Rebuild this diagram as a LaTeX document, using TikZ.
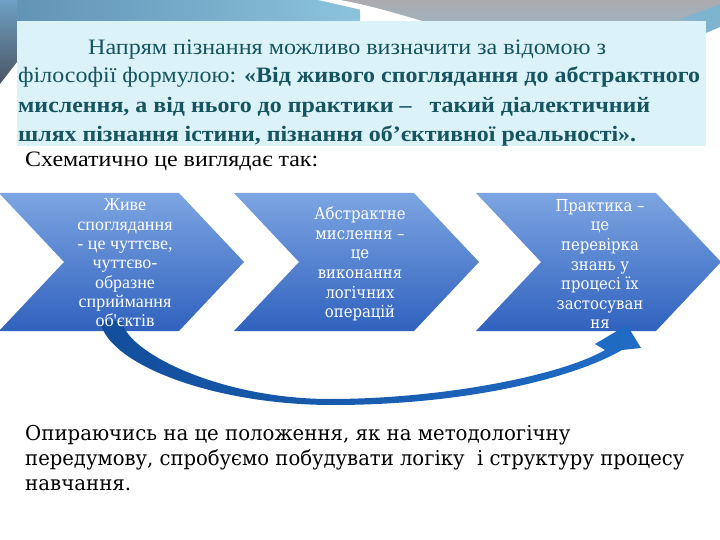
\documentclass[tikz,border=0pt]{standalone}
\usepackage{graphicx}
\usepackage{fontspec}
\setmainfont{Liberation Serif}
\newfontfamily\cambriafont{DejaVu Serif Condensed}
\newfontfamily\chevonefont{Liberation Serif}
\newcommand{\fitw}[2]{\resizebox{#1}{\height}{#2}}
\definecolor{boxbg}{RGB}{219,242,248}
\definecolor{boxtxt}{RGB}{22,84,96}
\definecolor{bandblueL}{RGB}{95,145,180}
\definecolor{bandblueR}{RGB}{140,195,220}
\definecolor{bandgrayT}{RGB}{172,170,174}
\definecolor{bandgrayB}{RGB}{160,178,190}
\definecolor{wedgeT}{RGB}{110,160,195}
\definecolor{wedgeB}{RGB}{75,85,100}
\definecolor{chevT}{RGB}{125,165,226}
\definecolor{chevB}{RGB}{48,98,190}
\definecolor{arrA}{RGB}{18,78,155}
\definecolor{arrB}{RGB}{32,108,198}
\tikzset{
  chevone/.style={text=white, align=center, inner sep=0pt, font=\chevonefont\fontsize{18}{19.3}\selectfont},
  chevtext/.style={text=white, align=center, inner sep=0pt, font=\cambriafont\fontsize{16.5}{19.6}\selectfont},
  boxline/.style={text=boxtxt, anchor=base west, inner sep=0pt, font=\fontsize{22}{29}\selectfont},
  plainline/.style={text=black, anchor=base west, inner sep=0pt, font=\fontsize{22}{25}\selectfont},
  paraline/.style={text=black, anchor=base west, inner sep=0pt, font=\cambriafont\fontsize{20.5}{25}\selectfont},
  chevfill/.style={top color=chevT, bottom color=chevB}
}
\begin{document}
\begin{tikzpicture}[x=1pt,y=-1pt]
\useasboundingbox (0,0) rectangle (720,540);
\fill[white] (0,0) rectangle (720,540);
% top band
\shade[left color=bandblueL, right color=bandblueR] (0,0) rectangle (360,21);
\shade[top color=bandgrayT, bottom color=bandgrayB] (338,0) .. controls (370,8) and (395,15) .. (420,21) -- (720,21) -- (720,0) -- cycle;
\fill[white] (318,0) .. controls (355,8) and (385,16) .. (413,21) -- (422,21) .. controls (395,13) and (368,5) .. (340,0) -- cycle;
\fill[bandblueR!70!bandblueL] (678,20) -- (720,4) -- (720,27) -- (706,33) -- (706,21) -- cycle;
\shade[top color=wedgeT, bottom color=wedgeB] (0,0) -- (17,0) -- (17,62) -- (0,84) -- cycle;
% text box
\fill[boxbg] (17,21) rectangle (706,146);
\node[boxline] (l1) at (88,55) {\fitw{518pt}{Напрям пізнання можливо визначити за відомою з}};
\node[boxline] (l2) at (18,83) {\fitw{682pt}{філософії формулою: \textbf{«Від живого споглядання до абстрактного}}};
\node[boxline] (l3) at (18,113) {\fitw{632pt}{\textbf{мислення, а від нього до практики –\ \ \ такий діалектичний}}};
\node[boxline] (l4) at (18,142) {\fitw{618pt}{\textbf{шлях пізнання істини, пізнання об’єктивної реальності».}}};
\node[plainline] (sch) at (25,167) {\fitw{293pt}{Схематично це виглядає так:}};
% chevrons
\foreach \L/\nm in {-1/c1, 234/c2, 476/c3}{
  \shade[chevfill] (\L,193) -- (\L+180,193) -- (\L+245,262) -- (\L+180,331) -- (\L,331) -- (\L+65,262) -- cycle;
}
% curved arrow from c1 to c3
\coordinate (tailO) at (100,321);
\coordinate (tailI) at (122,321);
\coordinate (shaftO) at (622,350);
\coordinate (wingR) at (641,348);
\coordinate (tip) at (627,325);
\coordinate (wingL) at (595,344);
\coordinate (shaftI) at (605,350);
\shade[left color=arrA, right color=arrB]
  (tailO) .. controls (108,365) and (215,405) .. (333,405)
  .. controls (460,405) and (570,380) .. (shaftO)
  -- (wingR) -- (tip) -- (wingL) -- (shaftI)
  .. controls (560,376) and (440,399) .. (330,399)
  .. controls (220,399) and (126,352) .. (tailI) -- cycle;
% chevron texts
\node[chevone] (t1) at (125,263) {Живе\\споглядання\\- це чуттєве,\\чуттєво-\\образне\\сприймання\\об'єктів};
\node[chevtext] (t2) at (360,264) {Абстрактне\\мислення –\\це\\виконання\\логічних\\операцій};
\node[chevtext] (t3) at (600,264) {Практика –\\це\\перевірка\\знань у\\процесі їх\\застосуван\\ня};
% bottom paragraph
\node[paraline] (p1) at (25,440) {\fitw{545pt}{Опираючись на це положення, як на методологічну}};
\node[paraline] (p2) at (25,465) {\fitw{659pt}{передумову, спробуємо побудувати логіку\ \ і структуру процесу}};
\node[paraline] (p3) at (25,490) {\fitw{106pt}{навчання.}};
\end{tikzpicture}
\end{document}
